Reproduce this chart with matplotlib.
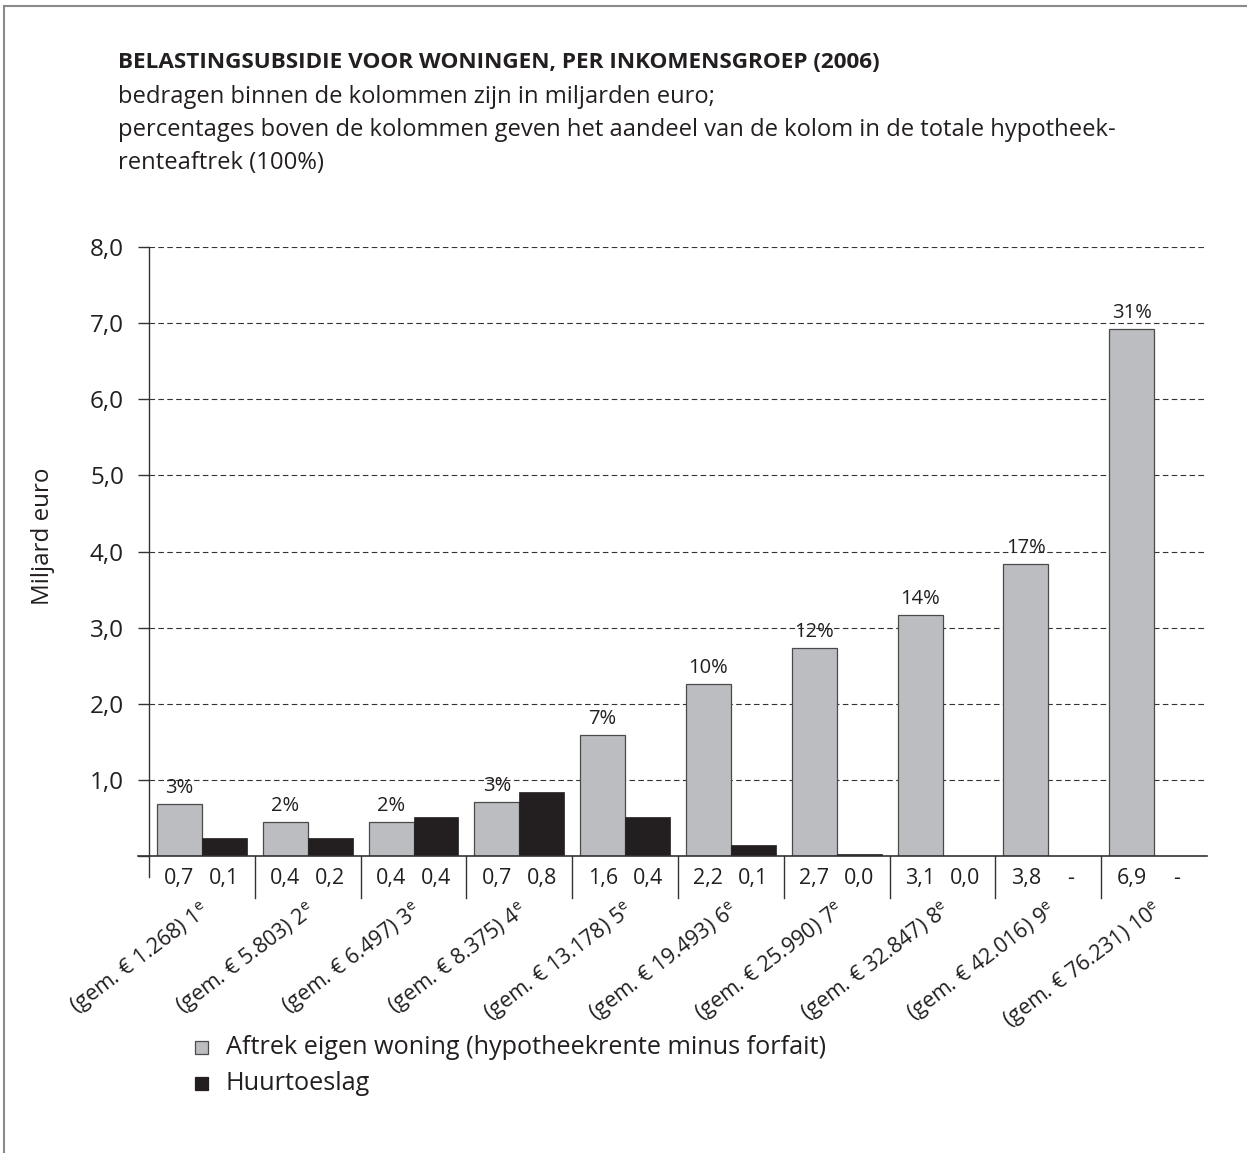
import matplotlib
matplotlib.use("Agg")
import matplotlib.pyplot as plt
from matplotlib.patches import Rectangle
from matplotlib.lines import Line2D

plt.rcParams['font.family'] = ['Open Sans', 'DejaVu Sans']
plt.rcParams['mathtext.fontset'] = 'custom'
plt.rcParams['mathtext.rm'] = 'Open Sans'

# data
groups = ["1.268", "5.803", "6.497", "8.375", "13.178", "19.493", "25.990", "32.847", "42.016", "76.231"]
aftrek = [0.68, 0.45, 0.45, 0.71, 1.59, 2.26, 2.73, 3.17, 3.83, 6.92]  # bar heights as drawn
huur = [0.23, 0.23, 0.51, 0.84, 0.51, 0.14, 0.02, 0.0, 0.0, 0.0]
aftrek_lbl = ["0,7", "0,4", "0,4", "0,7", "1,6", "2,2", "2,7", "3,1", "3,8", "6,9"]
huur_lbl = ["0,1", "0,2", "0,4", "0,8", "0,4", "0,1", "0,0", "0,0", "-", "-"]
pct = ["3%", "2%", "2%", "3%", "7%", "10%", "12%", "14%", "17%", "31%"]

W, H = 1247, 1153
GRAY = "#bcbdc0"
DARK = "#231f20"

fig = plt.figure(figsize=(W / 100, H / 100), dpi=100)

# frame (top and left only)
fig.add_artist(Line2D([4 / W, 1], [1 - 6 / H, 1 - 6 / H], color="#8a8a8a", lw=1.5))
fig.add_artist(Line2D([4 / W, 4 / W], [0, 1 - 6 / H], color="#8a8a8a", lw=1.5))

# title block
fig.text(118 / W, 1 - 62 / H, "BELASTINGSUBSIDIE VOOR WONINGEN, PER INKOMENSGROEP (2006)",
         fontsize=16.2, fontweight="bold", color=DARK, va="center")
sub = ["bedragen binnen de kolommen zijn in miljarden euro;",
       "percentages boven de kolommen geven het aandeel van de kolom in de totale hypotheek-",
       "renteaftrek (100%)"]
for k, s in enumerate(sub):
    fig.text(118 / W, 1 - (97 + 33 * k) / H, s, fontsize=17.1, color=DARK, va="center")

ax = fig.add_axes([149 / W, (H - 856) / H, (1207 - 149) / W, (856 - 247) / H])
ax.set_xlim(-0.5, 9.5)
ax.set_ylim(0, 8)

bw = 0.425
x = list(range(len(groups)))
ax.bar([i - bw / 2 for i in x], aftrek, width=bw, color=GRAY, edgecolor="#4a4a4a", lw=0.9, zorder=3)
ax.bar([i + bw / 2 for i in x], huur, width=bw, color=DARK, edgecolor=DARK, lw=0.5, zorder=3)

for y in range(1, 9):
    ax.axhline(y, color="#333333", lw=0.8, dashes=(5, 3), zorder=1)

for s in ["top", "right", "bottom"]:
    ax.spines[s].set_visible(False)
ax.spines["left"].set_color("#333333")
ax.spines["left"].set_linewidth(1.0)

ax.set_yticks(range(0, 9))
ax.set_yticklabels([""] + ["%d,0" % v for v in range(1, 9)], fontsize=17.5, color=DARK)
ax.tick_params(axis="y", length=8, width=1.0, color="#333333", pad=10)
ax.set_xticks([])
fig.text(43 / W, 1 - 536 / H, "Miljard euro", rotation=90, ha="center", va="center",
         fontsize=17.4, color=DARK)

# base line, dividers and left spine extension
ax.plot([-0.6, 9.5], [0, 0], color="#333333", lw=1.2, clip_on=False, zorder=4)
ax.plot([-0.5, -0.5], [0, -0.27], color="#333333", lw=1.0, clip_on=False)
for i in range(9):
    ax.plot([i + 0.5, i + 0.5], [0, -0.55], color="#333333", lw=1.0, clip_on=False)

for i in x:
    ax.text(i - bw / 2, -0.30, aftrek_lbl[i], ha="center", va="center", fontsize=15.5, color=DARK)
    ax.text(i + bw / 2, -0.30, huur_lbl[i], ha="center", va="center", fontsize=15.5, color=DARK)
    ax.text(i - bw / 2, aftrek[i] + 0.08, pct[i], ha="center", va="bottom", fontsize=14.5, color=DARK, zorder=5)
    ax.text(i - 0.02, -0.55, "(gem. \u20ac %s) %d$^{\\mathrm{e}}$" % (groups[i], i + 1),
            rotation=37, ha="right", va="top", rotation_mode="anchor", fontsize=15.5, color=DARK)

# legend
fig.add_artist(Rectangle((195 / W, 1 - 1054 / H), 13 / W, 13 / H, facecolor=GRAY, edgecolor="#4a4a4a", lw=0.9))
fig.add_artist(Rectangle((195 / W, 1 - 1090 / H), 13 / W, 13 / H, facecolor=DARK, edgecolor=DARK, lw=0.9))
fig.text(226 / W, 1 - 1047 / H, "Aftrek eigen woning (hypotheekrente minus forfait)", fontsize=18.2, color=DARK, va="center")
fig.text(226 / W, 1 - 1083 / H, "Huurtoeslag", fontsize=18.2, color=DARK, va="center")

fig.savefig("out.png", dpi=100)
